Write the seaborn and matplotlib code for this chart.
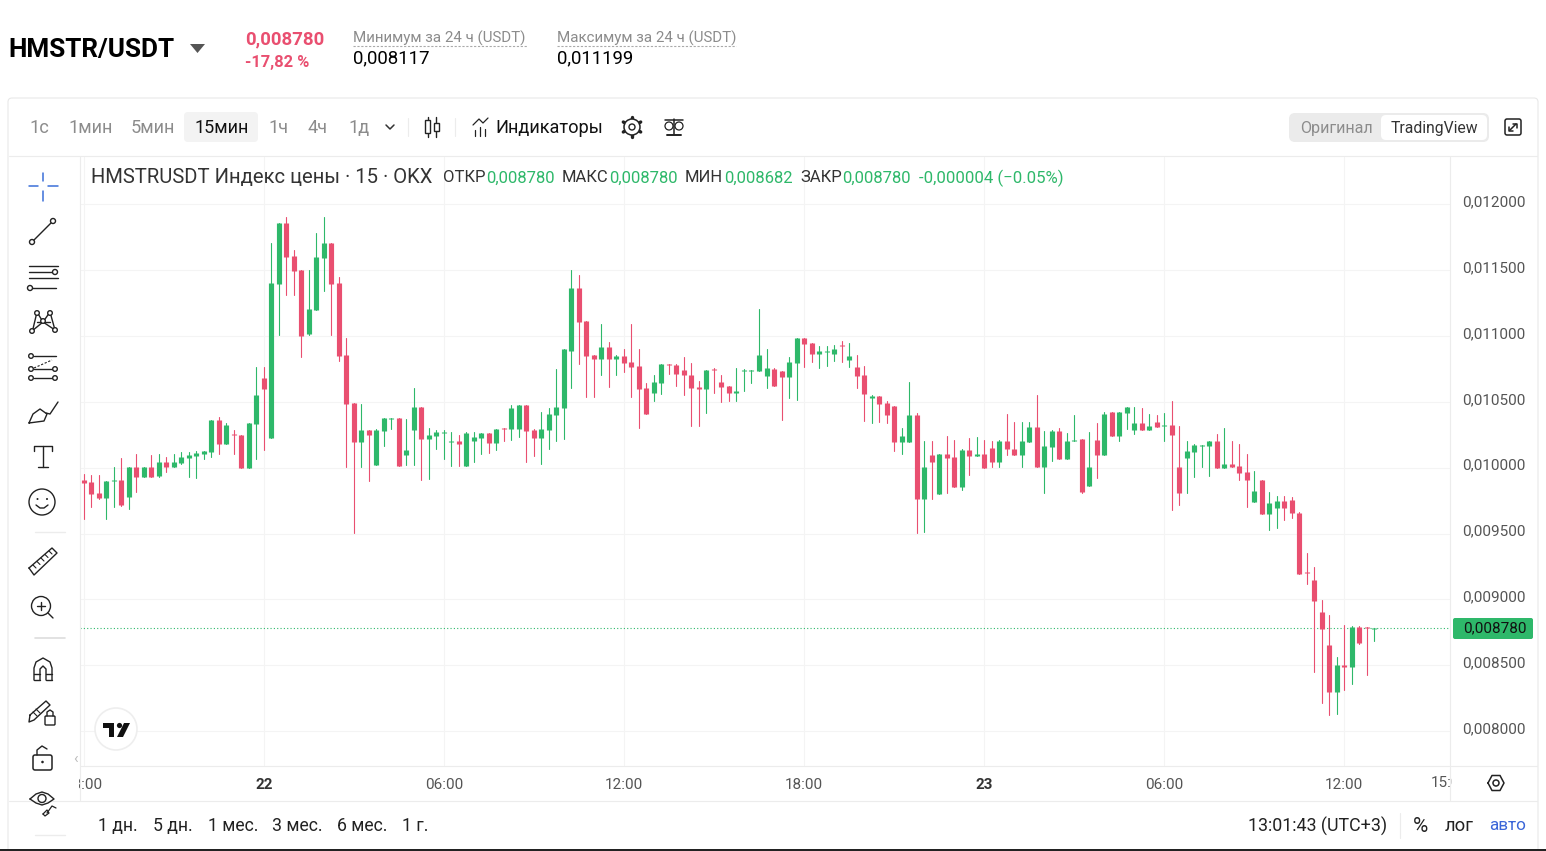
import matplotlib
matplotlib.use("Agg")
import matplotlib.pyplot as plt
from matplotlib.patches import Circle, FancyBboxPatch, Polygon, Rectangle
from matplotlib.transforms import Bbox, ScaledTranslation
import pandas as pd
import seaborn as sns

# 15 min bars, prices in millionths of USDT, bar 0 = midnight of the 22nd
opens = [
    9907, 9889, 9808, 9773, 9902, 9907, 9780, 10006, 9932, 10006,
    9937, 10044, 10008, 10036, 10077, 10092, 10104, 10122, 10363, 10183,
    10256, 10249, 10001, 10335, 10681, 10228, 11398, 11858, 11608, 11501,
    11016, 11200, 11595, 11707, 11403, 10856, 10492, 10198, 10287, 10023,
    10282, 10370, 10378, 10096, 10289, 10461, 10218, 10241, 10266, 10195,
    10203, 10013, 10203, 10225, 10263, 10187, 10301, 10294, 10294, 10476,
    10286, 10225, 10286, 10400, 10453, 10886, 11364, 11114, 10856, 10825,
    10916, 10825, 10848, 10803, 10772, 10605, 10567, 10643, 10787, 10780,
    10742, 10704, 10612, 10597, 10749, 10650, 10620, 10569, 10734, 10734,
    10734, 10696, 10749, 10734, 10688, 10795, 10984, 10947, 10863, 10878,
    10863, 10931, 10817, 10764, 10704, 10529, 10544, 10491, 10468, 10195,
    10195, 10400, 9762, 10096, 9800, 10104, 10081, 9853, 10134, 10088,
    10104, 10150, 10043, 10203, 10142, 10096, 10195, 10309, 10005, 10157,
    10279, 10066, 10203, 10218, 9861, 10210, 10096, 10423, 10241, 10415,
    10286, 10339, 10286, 10347, 10317, 10324, 10005, 10074, 10119, 10165,
    10165, 10203, 9998, 10028, 10013, 9967, 9740, 9907, 9648, 9694,
    9747, 9755, 9656, 9208, 9147, 8904, 8654, 8297, 8502, 8487, 8790, 8790, 8780,
]
closes = [
    9887, 9803, 9773, 9899, 9907, 9717, 10006, 9932, 10006, 9932,
    10044, 10008, 10044, 10082, 10097, 10112, 10127, 10363, 10183, 10325,
    10249, 10001, 10340, 10552, 10600, 11403, 11858, 11603, 11496, 11003,
    11205, 11600, 11707, 11398, 10851, 10487, 10198, 10287, 10249, 10287,
    10378, 10378, 10013, 10134, 10461, 10220, 10248, 10271, 10271, 10203,
    10180, 10263, 10233, 10263, 10187, 10294, 10294, 10453, 10476, 10279,
    10225, 10294, 10408, 10461, 10901, 11364, 11106, 10848, 10825, 10916,
    10825, 10848, 10795, 10765, 10598, 10408, 10651, 10787, 10780, 10711,
    10704, 10605, 10597, 10741, 10741, 10612, 10567, 10582, 10744, 10741,
    10855, 10757, 10620, 10688, 10802, 10984, 10939, 10863, 10886, 10886,
    10901, 10924, 10848, 10696, 10559, 10544, 10483, 10400, 10195, 10240,
    10400, 9762, 10005, 10043, 10104, 10073, 9853, 10134, 10088, 10104,
    9997, 10043, 10203, 10142, 10096, 10203, 10309, 10005, 10165, 10279,
    10066, 10203, 10210, 9816, 10005, 10096, 10408, 10241, 10423, 10461,
    10339, 10286, 10317, 10309, 10324, 10248, 9808, 10127, 10172, 10172,
    10203, 9998, 10028, 10005, 9960, 9907, 9823, 9648, 9732, 9747,
    9694, 9656, 9193, 9200, 8988, 8775, 8297, 8502, 8487, 8790, 8669, 8783, 8780,
]
highs = [
    9953, 9945, 9945, 9899, 10008, 10077, 10006, 10104, 10006, 10097,
    10104, 10084, 10104, 10120, 10122, 10127, 10127, 10363, 10385, 10340,
    10287, 10249, 10340, 10765, 10765, 11707, 11858, 11906, 11653, 11501,
    11501, 11782, 11906, 11707, 11446, 10985, 10492, 10484, 10287, 10292,
    10378, 10378, 10378, 10370, 10605, 10461, 10301, 10286, 10286, 10271,
    10248, 10271, 10271, 10263, 10263, 10294, 10301, 10476, 10476, 10476,
    10294, 10423, 10453, 10749, 10901, 11501, 11463, 11114, 10856, 11091,
    10954, 10856, 10901, 11091, 10901, 10643, 10704, 10787, 10787, 10787,
    10840, 10795, 10658, 10741, 10757, 10704, 10620, 10757, 10749, 10741,
    11205, 10898, 10757, 10734, 10840, 10984, 10984, 10947, 10924, 10924,
    10931, 10962, 10947, 10855, 10772, 10552, 10544, 10506, 10468, 10301,
    10650, 10415, 10202, 10202, 10104, 10240, 10210, 10142, 10225, 10233,
    10210, 10203, 10210, 10408, 10347, 10347, 10347, 10552, 10279, 10286,
    10301, 10264, 10400, 10218, 10271, 10339, 10423, 10423, 10423, 10461,
    10461, 10453, 10408, 10400, 10415, 10506, 10317, 10203, 10180, 10172,
    10203, 10256, 10301, 10203, 10180, 10104, 9975, 9907, 9815, 9785,
    9785, 9777, 9664, 9352, 9246, 8995, 8882, 8563, 8806, 8798, 8798, 8790, 8780,
]
lows = [
    9608, 9704, 9760, 9608, 9704, 9712, 9684, 9816, 9932, 9932,
    9932, 9970, 10006, 10026, 9932, 9925, 10069, 10084, 10107, 10183,
    10107, 10001, 10001, 10069, 10135, 10228, 11010, 11312, 11312, 10843,
    11010, 11200, 11345, 11010, 10813, 10006, 9502, 10006, 9902, 10023,
    10168, 10294, 10013, 10023, 10023, 9907, 9917, 10142, 10066, 10013,
    10013, 10013, 10043, 10104, 10112, 10134, 10203, 10210, 10233, 10043,
    10089, 10028, 10142, 10203, 10218, 10605, 10787, 10537, 10537, 10704,
    10613, 10704, 10727, 10537, 10301, 10408, 10506, 10560, 10711, 10620,
    10552, 10317, 10316, 10415, 10567, 10499, 10506, 10506, 10582, 10643,
    10734, 10605, 10620, 10362, 10529, 10514, 10764, 10802, 10757, 10772,
    10810, 10802, 10764, 10605, 10354, 10339, 10347, 10339, 10126, 10104,
    10195, 9504, 9511, 9762, 9800, 9808, 9853, 9830, 9944, 10088,
    9997, 10005, 10005, 10096, 10096, 10005, 10195, 10005, 9808, 10051,
    10066, 10066, 10203, 9808, 9861, 9922, 10096, 10241, 10203, 10294,
    10256, 10286, 10286, 10309, 10203, 9679, 9717, 9808, 9929, 10005,
    9937, 9998, 9998, 10005, 9907, 9702, 9740, 9648, 9527, 9542,
    9603, 9618, 9193, 9117, 8449, 8213, 8122, 8130, 8312, 8358, 8661, 8426, 8682,
]
first_bar = -24

time_ticks = [-24, 0, 24, 48, 72, 96, 120, 144]
time_labels = ["18:00", "22", "06:00", "12:00", "18:00", "23", "06:00", "12:00"]
price_ticks = [8000, 8500, 9000, 9500, 10000, 10500, 11000, 11500, 12000]
last_price = 8780

GREEN = "#2eb86a"
RED = "#e94f70"
GREY = "#8c8c8c"
DARK = "#1a1a1a"
AXIS_TEXT = "#555555"
LINE = "#ececec"

sns.set_theme(style="white")
plt.rcParams["font.family"] = ["Roboto", "DejaVu Sans"]

df = pd.DataFrame({"open": opens, "high": highs, "low": lows, "close": closes})
df["bar"] = range(first_bar, first_bar + len(df))
df["side"] = ["up" if c >= o else "down" for o, c in zip(opens, closes)]
# a flat body still gets about one pixel of height
df["body_top"] = df[["open", "close"]].max(axis=1)
df["body_bot"] = df[["open", "close"]].min(axis=1)
flat = df["body_top"] - df["body_bot"] < 8
df.loc[flat, "body_bot"] = df.loc[flat, "body_top"] - 8

wicks = df.melt(id_vars=["bar", "side"], value_vars=["high", "low"], value_name="price")
bodies = df.melt(id_vars=["bar", "side"], value_vars=["body_top", "body_bot"], value_name="price")

W, H = 1546, 851
fig = plt.figure(figsize=(W / 100, H / 100), dpi=100, facecolor="white")

# price chart, px 80..1450 across and 156..766 down
ax = fig.add_axes([80 / W, 1 - 766 / H, 1370 / W, 610 / H])
palette = {"up": GREEN, "down": RED}
sns.lineplot(data=wicks, x="bar", y="price", hue="side", units="bar", estimator=None,
             palette=palette, legend=False, linewidth=0.8, sort=False, ax=ax, zorder=3)
sns.lineplot(data=bodies, x="bar", y="price", hue="side", units="bar", estimator=None,
             palette=palette, legend=False, linewidth=3.7, sort=False, ax=ax, zorder=4,
             solid_capstyle="butt")
ax.axhline(last_price, color=GREEN, lw=0.8, ls=(0, (1, 2)), zorder=2)

ax.set_xlim(-24.53, 158.13)
ax.set_ylim(7735, 12367)
ax.set_xlabel("")
ax.set_ylabel("")
ax.set_xticks(time_ticks)
ax.set_xticklabels(time_labels)
ax.set_yticks(price_ticks)
ax.set_yticklabels([f"0,{p:06d}" for p in price_ticks])
ax.yaxis.tick_right()
ax.grid(True, color="#f4f4f4", lw=0.8)
ax.set_axisbelow(True)
ax.tick_params(axis="x", length=0, pad=8.5, labelsize=11, labelcolor=AXIS_TEXT)
ax.tick_params(axis="y", length=0, pad=9, labelsize=11, labelcolor=AXIS_TEXT)
for s in ax.spines.values():
    s.set_visible(False)
for t, lab in zip(ax.get_xticklabels(), time_labels):
    if lab in ("22", "23"):
        t.set_fontweight("bold")
        t.set_color("#333333")
# price labels sit a little above their grid lines
lift = ScaledTranslation(0, 2.5 / 72, fig.dpi_scale_trans)
for t in ax.get_yticklabels():
    t.set_transform(t.get_transform() + lift)
# first label is cut by the drawing toolbar
ax.get_xticklabels()[0].set_clip_box(Bbox([[79, 0], [W, H]]))
ax.get_xticklabels()[0].set_clip_on(True)

# page chrome in pixel coordinates
ui = fig.add_axes([0, 0, 1, 1], zorder=5)
ui.set_xlim(0, W)
ui.set_ylim(H, 0)
ui.axis("off")
ui.patch.set_alpha(0)


def label(x, y, s, size=12, color=DARK, weight="normal", ha="left"):
    return ui.text(x, y, s, fontsize=size, color=color, fontweight=weight, ha=ha, va="center")


def seg(xs, ys, color="#222222", lw=1.0, **kw):
    ui.plot(xs, ys, color=color, lw=lw, solid_capstyle="round", zorder=4, **kw)


def ring(x, y, r, color="#222222", lw=1.0, fill="white"):
    ui.add_patch(Circle((x, y), r, fc=fill, ec=color, lw=lw, zorder=5))


def box(x0, y0, x1, y1, r, fc, ec="none", lw=0.8):
    ui.add_patch(FancyBboxPatch((x0 + r, y0 + r), x1 - x0 - 2 * r, y1 - y0 - 2 * r,
                                boxstyle=f"round,pad={r}", fc=fc, ec=ec, lw=lw))


# header
label(8, 50, "HMSTR/USDT", 18.8, "#000000", "bold")
ui.add_patch(Polygon([(190, 44), (205, 44), (197.5, 53)], fc="#555555", ec="none"))
label(245, 39, "0,008780", 13.4, RED, "bold")
label(245, 62, "-17,82 %", 11.8, RED, "bold")
label(353, 38, "Минимум за 24 ч (USDT)", 10.9, GREY)
label(353, 58, "0,008117", 13.4, "#000000")
label(557, 38, "Максимум за 24 ч (USDT)", 10.9, GREY)
label(557, 58, "0,011199", 13.4, "#000000")
seg([353, 527], [46, 46], "#aaaaaa", 0.8, ls=(0, (2, 1.5)))
seg([557, 736], [46, 46], "#aaaaaa", 0.8, ls=(0, (2, 1.5)))

# card outline and separators
box(8, 98, 1538, 900, 4, "none", "#e8e8e8", 0.8)
seg([9, 1537], [155.5, 155.5], LINE, 0.8)
seg([80, 1537], [766, 766], LINE, 0.8)
seg([9, 1537], [800.5, 800.5], LINE, 0.8)
seg([80, 80], [156, 800], LINE, 0.8)
seg([1450, 1450], [156, 800], LINE, 0.8)
ui.add_patch(Rectangle((0, 849), W, 2, fc="#222222", ec="none"))

# interval row
box(184, 112, 258, 142, 4, "#f3f3f3")
for x, s in [(29, "1с"), (68, "1мин"), (131, "5мин"), (268, "1ч"), (308, "4ч"), (348, "1д")]:
    label(x, 128, s, 13.1, GREY)
label(195, 128, "15мин", 13, "#111111")
seg([386, 390, 394], [125, 129, 125], "#333333", 1.1)
seg([408, 408], [118, 136], LINE, 0.8)
seg([455, 455], [118, 136], LINE, 0.8)
# candle type icon
seg([428, 428], [117, 137])
seg([436, 436], [117, 137])
ui.add_patch(Rectangle((425, 120), 5, 13, fc="white", ec="#222222", lw=1, zorder=5))
ui.add_patch(Rectangle((433.5, 123), 5, 8, fc="white", ec="#222222", lw=1, zorder=5))
# indicators icon
seg([473, 479, 483, 488], [125, 119, 123, 118], lw=0.9)
for x, y0 in [(475, 130), (480, 127), (485, 129)]:
    seg([x, x], [y0, 136], lw=0.9)
label(495, 128, "Индикаторы", 13.1, "#111111")
# gear
for dx, dy in [(0, -10), (0, 10), (8.7, -5), (-8.7, -5), (8.7, 5), (-8.7, 5)]:
    ui.plot([632 + dx * 0.8, 632 + dx], [127 + dy * 0.8, 127 + dy], color="#222222", lw=2.4, zorder=4)
ring(632, 127, 8, lw=1.1)
ring(632, 127, 3, lw=1)
# balance
seg([674, 674], [119, 134], lw=1.1)
seg([665, 683], [120, 120], lw=1.1)
seg([667, 681], [135, 135], lw=1.4)
ring(669, 126, 4, lw=0.9, fill="none")
ring(679, 126, 4, lw=0.9, fill="none")

# chart switch
box(1289, 113, 1489, 142, 6, "#ebebeb")
box(1381, 115, 1487, 140, 5, "white")
label(1300, 128, "Оригинал", 11.6, GREY)
label(1391, 128, "TradingView", 11.3, "#333333")
box(1505, 119, 1521, 135, 2, "white", "#222222", 1.1)
seg([1510, 1516], [130, 124], lw=1.1)
seg([1513, 1517, 1517], [123.5, 123.5, 127.5], lw=1.1)
seg([1509, 1509, 1513], [126.5, 130.5, 130.5], lw=1.1)

# legend line above the plot
label(91, 178, "HMSTRUSDT Индекс цены · 15 · OKX", 14.6, "#333333")
for x, name in [(443, "ОТКР"), (562, "МАКС"), (685, "МИН"), (800, "ЗАКР")]:
    label(x, 178, name, 12, "#333333")
for x, val in [(486, "0,008780"), (609, "0,008780"), (724, "0,008682"), (842, "0,008780")]:
    label(x, 178, val, 12, GREEN)
label(919, 178, "-0,000004 (−0.05%)", 12.1, GREEN)

# last price tag
box(1453, 618, 1533, 639, 2, GREEN)
label(1495, 628, "0,008780", 11, "#111111", ha="center")

# x axis extras
t = label(1431, 783, "15:00", 11, AXIS_TEXT)
t.set_clip_box(Bbox([[0, 0], [1452, H]]))
t.set_clip_on(True)
hexx = [1488, 1492, 1500, 1504, 1500, 1492, 1488]
hexy = [783, 775.5, 775.5, 783, 790.5, 790.5, 783]
seg(hexx, hexy, lw=1.1)
ring(1496, 783, 3, lw=1.1)
label(73, 759, "‹", 11, "#bbbbbb")

# range row
for x, s in [(98, "1 дн."), (153, "5 дн."), (208, "1 мес."), (272, "3 мес."), (337, "6 мес."), (402, "1 г.")]:
    label(x, 826, s, 12.7, "#222222")
label(1248, 826, "13:01:43 (UTC+3)", 12.9, "#222222")
seg([1400, 1400], [813, 838], LINE, 0.8)
label(1413, 826, "%", 15, "#222222")
label(1445, 826, "лог", 13.2, "#222222")
label(1489, 826, "авто", 12.3, "#3b66d8")

# tradingview badge
ring(116, 729, 21, "#eeeeee", 1.2, fill="white")
ui.add_patch(Polygon([(103, 723), (114, 723), (114, 737), (109, 737), (109, 728), (103, 728)], fc="#111111", ec="none", zorder=6))
ui.add_patch(Circle((119.5, 725.5), 2.6, fc="#111111", ec="none", zorder=6))
ui.add_patch(Polygon([(124, 723), (130, 723), (123, 737), (117, 737)], fc="#111111", ec="none", zorder=6))

# drawing toolbar
BLUE = "#3b6fd8"
seg([29, 38], [186, 186], BLUE, 1.1)
seg([48, 58], [186, 186], BLUE, 1.1)
seg([43, 43], [173, 181], BLUE, 1.1)
seg([43, 43], [191, 201], BLUE, 1.1)
seg([32, 53], [242, 221])
ring(32, 242, 2.5)
ring(53, 221, 2.5)
seg([29, 58], [266, 266])
seg([29, 53], [272, 272])
seg([29, 58], [278, 278])
seg([32, 56], [288, 288])
ring(55, 272, 2.5)
ring(30, 288, 2.5)
seg([32, 37, 43, 50, 55], [333, 312, 322, 312, 330])
seg([37, 50], [322, 322])
seg([32, 43, 55], [331, 322, 330])
for x, y in [(32, 331), (37, 313), (43, 321), (50, 313), (55, 330)]:
    ring(x, y, 2.3)
seg([34, 56], [356, 356])
seg([34, 52], [369, 369])
seg([34, 52], [378, 378])
seg([34, 52], [368, 360], ls=(0, (2, 1.5)), lw=0.8)
for x, y in [(31, 356), (31, 369), (31, 378), (55, 369), (55, 378)]:
    ring(x, y, 2.3)
seg([29, 33, 40, 47, 44, 29], [423, 414, 409, 414, 421, 423])
seg([46, 50, 58], [413, 414, 402])
seg([43, 43], [446, 467])
seg([34, 34, 52, 52], [451, 446, 446, 451])
seg([38, 48], [467, 467])
ring(42, 502, 13, fill="none")
seg([36, 40, 44, 48], [505, 508, 508, 505])
ui.add_patch(Circle((37.5, 499), 1, fc="#222222", ec="none"))
ui.add_patch(Circle((47, 499), 1, fc="#222222", ec="none"))
seg([35, 65], [531.5, 531.5], LINE, 1)
seg([29, 52, 57, 34, 29], [568, 548, 553, 575, 568])
for i in range(5):
    seg([33 + i * 4, 36 + i * 4], [565 - i * 3.5, 568 - i * 3.5], lw=0.8)
ring(41, 606, 9.5, fill="none")
seg([37, 45], [606, 606])
seg([41, 41], [602, 610])
seg([48, 53], [613, 618])
seg([35, 65], [637.5, 637.5], "#dddddd", 1.2)
seg([34, 34, 36, 43, 50, 52, 52], [680, 668, 662, 658, 662, 668, 680])
seg([40, 40, 43, 46, 46], [680, 669, 666, 669, 680])
seg([34, 40], [674, 674])
seg([46, 52], [674, 674])
seg([34, 40], [680, 680])
seg([46, 52], [680, 680])
seg([30, 46, 50, 34, 29, 30], [715, 701, 705, 720, 722, 715])
seg([33, 37], [712, 716], lw=0.8)
seg([36, 40], [709, 713], lw=0.8)
seg([47, 47, 50, 53, 53], [716, 712, 710, 712, 716])
box(45, 716, 55, 725, 1, "white", "#222222", 1)
seg([37, 37, 42, 47], [755, 750, 746, 749])
box(33, 755, 52, 770, 2, "white", "#222222", 1.1)
ui.add_patch(Circle((42.5, 762), 1.3, fc="#222222", ec="none", zorder=5))
seg([30, 36, 42, 48, 54, 48, 42, 36, 30], [799, 794, 792, 794, 799, 803, 805, 803, 799])
ring(42, 798.5, 4, fill="none")
seg([47, 52, 56], [813, 806, 808], lw=0.9)
seg([43, 47, 49, 45, 43], [814, 810, 813, 816, 814], lw=0.9)
seg([35, 65], [834.5, 834.5], LINE, 1)

fig.savefig("out.png", dpi=100, facecolor="white")
